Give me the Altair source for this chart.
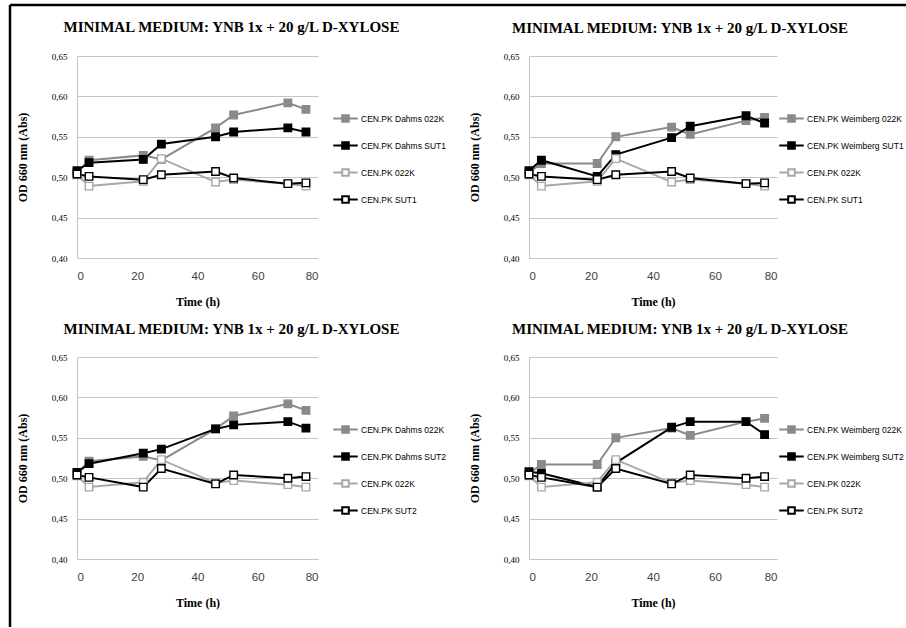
import altair as alt
import pandas as pd

# ---------------- data ----------------
time_h = [0, 4, 22, 28, 46, 52, 70, 76]

dahms_022k = [0.506, 0.521, 0.527, 0.522, 0.561, 0.577, 0.592, 0.584]
dahms_sut1 = [0.508, 0.518, 0.522, 0.541, 0.550, 0.556, 0.561, 0.556]
dahms_sut2 = [0.507, 0.518, 0.531, 0.536, 0.561, 0.566, 0.570, 0.562]
weimberg_022k = [0.506, 0.517, 0.517, 0.550, 0.562, 0.553, 0.570, 0.574]
weimberg_sut1 = [0.508, 0.521, 0.501, 0.528, 0.549, 0.563, 0.576, 0.567]
weimberg_sut2 = [0.508, 0.506, 0.489, 0.519, 0.563, 0.570, 0.570, 0.554]
cenpk_022k = [0.503, 0.489, 0.495, 0.523, 0.494, 0.497, 0.492, 0.489]
cenpk_sut1 = [0.504, 0.501, 0.497, 0.503, 0.507, 0.499, 0.492, 0.493]
cenpk_sut2 = [0.504, 0.501, 0.489, 0.512, 0.493, 0.504, 0.500, 0.502]

names_p1 = ["CEN.PK Dahms 022K", "CEN.PK Dahms SUT1", "CEN.PK 022K", "CEN.PK SUT1"]
names_p2 = ["CEN.PK Weimberg 022K", "CEN.PK Weimberg SUT1", "CEN.PK 022K", "CEN.PK SUT1"]
names_p3 = ["CEN.PK Dahms 022K", "CEN.PK Dahms SUT2", "CEN.PK 022K", "CEN.PK SUT2"]
names_p4 = ["CEN.PK Weimberg 022K", "CEN.PK Weimberg SUT2", "CEN.PK 022K", "CEN.PK SUT2"]

series_p1 = [dahms_022k, dahms_sut1, cenpk_022k, cenpk_sut1]
series_p2 = [weimberg_022k, weimberg_sut1, cenpk_022k, cenpk_sut1]
series_p3 = [dahms_022k, dahms_sut2, cenpk_022k, cenpk_sut2]
series_p4 = [weimberg_022k, weimberg_sut2, cenpk_022k, cenpk_sut2]

x_ticks = [0, 20, 40, 60, 80]
y_ticks = [0.40, 0.45, 0.50, 0.55, 0.60, 0.65]
chart_title = "MINIMAL MEDIUM: YNB 1x + 20 g/L D-XYLOSE"

# ---------------- styling ----------------
STROKES = ["#8a8a8a", "#000000", "#a8a8a8", "#000000"]
FILLS = ["#8a8a8a", "#000000", "#ffffff", "#ffffff"]
SERIF = "Liberation Serif"
SANS = "Liberation Sans"
GRID = "#c4c4c4"
SYMBOL = "M-1,0H-0.27M0.27,0H1M-0.27,-0.27H0.27V0.27H-0.27Z"


def panel(names, series, width, legend_x, legend_y, title_dx, title_dy, frame=False):
    rows = []
    for n, vals in zip(names, series):
        for t, v in zip(time_h, vals):
            rows.append({"series": n, "t": t, "od": v})
    df = pd.DataFrame(rows)

    leg = alt.Legend(
        title=None, orient="none", legendX=legend_x, legendY=legend_y,
        symbolType=SYMBOL, symbolSize=600, symbolStrokeWidth=2,
        labelFont=SANS, labelFontSize=8.5, labelColor="#000000",
        labelOffset=2, rowPadding=6, padding=0, labelLimit=300,
    )
    stroke = alt.Stroke("series:N", scale=alt.Scale(domain=names, range=STROKES),
                        legend=leg, sort=names)
    fill = alt.Fill("series:N", scale=alt.Scale(domain=names, range=FILLS),
                    legend=leg, sort=names)
    x = alt.X("t:Q", scale=alt.Scale(domain=[0, 80], nice=False),
              axis=alt.Axis(values=x_ticks, title="Time (h)", grid=False, ticks=False,
                            domainColor=GRID, labelFont=SANS, labelFontSize=11.5,
                            labelColor="#404040", labelPadding=12,
                            titleFont=SERIF, titleFontSize=12, titleFontWeight="bold",
                            titleColor="#000000", titleY=43, titleBaseline="middle"))
    y = alt.Y("od:Q", scale=alt.Scale(domain=[0.40, 0.65], nice=False, zero=False),
              axis=alt.Axis(values=y_ticks, title="OD 660 nm (Abs)", grid=True,
                            gridColor=GRID, ticks=False, domainColor=GRID,
                            labelExpr="replace(format(datum.value, '.2f'), '.', ',')",
                            labelFont=SERIF, labelFontSize=9, labelColor="#000000",
                            labelPadding=10,
                            titleFont=SERIF, titleFontSize=12, titleFontWeight="bold",
                            titleColor="#000000", titleX=-55, titleY=101,
                            titleBaseline="middle"))
    base = alt.Chart(df)
    lines = base.mark_line(strokeWidth=2).encode(x=x, y=y, stroke=stroke)
    pts = base.mark_point(shape="square", size=56, filled=True, opacity=1,
                          strokeWidth=1.4).encode(x=x, y=y, stroke=stroke, fill=fill)
    layers = [lines, pts]
    if frame:
        one = alt.Chart(pd.DataFrame({"k": [0]}))
        layers.append(one.mark_rule(color="#000000", strokeWidth=2.5).encode(
            x=alt.value(-67), x2=alt.value(923), y=alt.value(-51)))
        layers.append(one.mark_rule(color="#000000", strokeWidth=2.5).encode(
            x=alt.value(-67), y=alt.value(-51), y2=alt.value(572)))
    return alt.layer(*layers).properties(
        width=width, height=202,
        title=alt.TitleParams(chart_title, font=SERIF, fontSize=15, fontWeight="bold",
                              color="#000000", anchor="middle", frame="group",
                              baseline="alphabetic", offset=0,
                              dx=title_dx, dy=title_dy),
    ).resolve_scale(stroke="shared", fill="shared")


p1 = panel(names_p1, series_p1, 241, 255, 49, 34, 43, frame=True)
p2 = panel(names_p2, series_p2, 248, 249, 49, 27, -4)
p3 = panel(names_p3, series_p3, 241, 255, 59, 34, -4)
p4 = panel(names_p4, series_p4, 248, 249, 59, 27, -4)

chart = alt.concat(
    p1, p2, p3, p4, columns=2, bounds="flush",
    spacing=alt.RowColnumber(row=99, column=211),
).resolve_scale(
    stroke="independent", fill="independent", x="independent", y="independent"
).resolve_legend(stroke="independent", fill="independent").properties(
    padding={"left": 8, "top": 3, "right": -96, "bottom": -3},
    background="#ffffff",
).configure_view(stroke=None)

chart.save("out.html", embed_options={"renderer": "svg", "actions": False})
